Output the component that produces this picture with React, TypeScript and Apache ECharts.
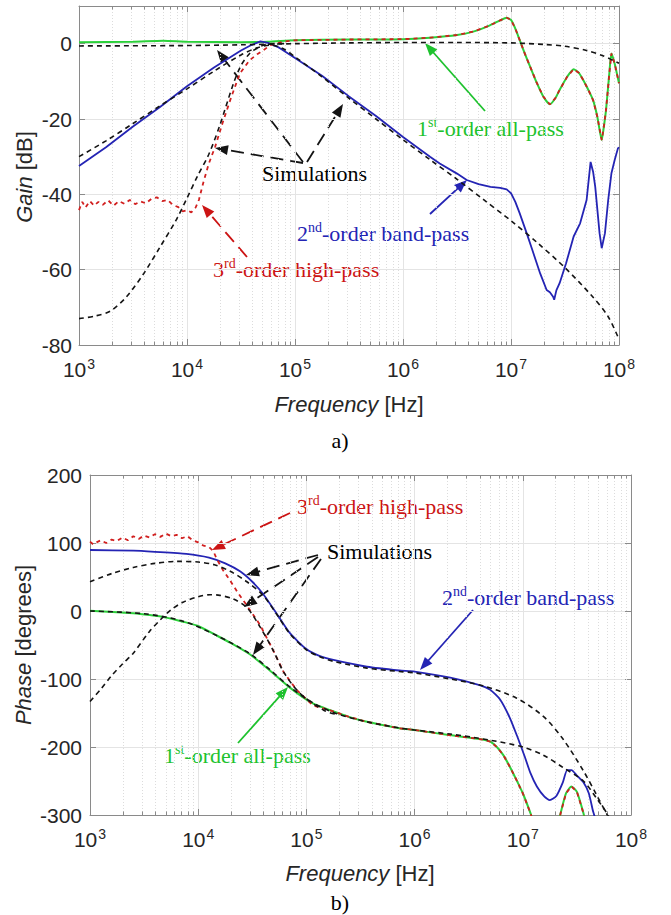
import React, { useEffect, useRef } from 'react';
import * as echarts from 'echarts';

// ---------- DATA (x = log10 of frequency in Hz) ----------
// a) Gain [dB]
const apGainLogF = [3.0, 3.5, 3.78, 4.0, 4.5, 4.75, 5.0, 5.5, 6.0, 6.25, 6.5, 6.65, 6.8, 6.9, 6.96, 7.0, 7.04, 7.08, 7.13, 7.18, 7.24, 7.3, 7.36, 7.41, 7.45, 7.52, 7.58, 7.63, 7.67, 7.72, 7.76, 7.8, 7.84, 7.86, 7.88, 7.91, 7.93, 7.96, 8.0];
const apGainDb = [0.4, 0.5, 0.8, 0.5, 0.4, 0.5, 0.9, 1.1, 1.2, 1.6, 2.3, 3.2, 4.8, 6.2, 6.9, 6.3, 4.0, 1.0, -2.8, -6.3, -10.5, -14.1, -16.1, -14.5, -12.3, -8.8, -6.8, -7.8, -9.7, -12.5, -15, -19.5, -25.6, -22, -17.6, -8, -2.6, -5.3, -10.5];

const hpGainLowLogF = [3.0, 3.03, 3.06, 3.1, 3.14, 3.18, 3.22, 3.27, 3.32, 3.37, 3.42, 3.47, 3.52, 3.57, 3.62, 3.67, 3.72, 3.77, 3.82, 3.87, 3.92, 3.96, 4.0, 4.04, 4.08, 4.11, 4.15, 4.2, 4.26, 4.33, 4.4, 4.45, 4.49, 4.58, 4.65, 4.71, 4.77, 4.89, 5.0];
const hpGainLowDb = [-44.2, -42, -43.5, -41.8, -43, -42, -42.8, -41.6, -43, -41.8, -42.5, -41.5, -42.6, -41.9, -42.4, -41.2, -40.8, -41.8, -41.5, -42.8, -43.4, -44.5, -44.2, -44.8, -43.5, -41.5, -37, -32, -27.4, -21, -15, -11, -7.9, -4.4, -2.8, -1.7, -0.4, 0.5, 0.9];

const bpGainLogF = [3.0, 3.1, 3.25, 3.5, 3.75, 4.0, 4.25, 4.5, 4.6, 4.68, 4.75, 4.85, 5.0, 5.25, 5.5, 5.75, 6.0, 6.25, 6.34, 6.5, 6.59, 6.7, 6.81, 6.9, 6.96, 7.0, 7.04, 7.08, 7.145, 7.2, 7.27, 7.33, 7.36, 7.39, 7.4, 7.42, 7.45, 7.51, 7.58, 7.64, 7.7, 7.737, 7.76, 7.78, 7.82, 7.84, 7.87, 7.9, 7.93, 7.96, 7.99, 8.0];
const bpGainDb = [-32.5, -30.5, -27.5, -22, -16.8, -11.3, -6.3, -1.8, -0.3, 0.6, 0.2, -1.0, -3.8, -8.5, -14, -19.2, -24.8, -30, -31.8, -34.5, -36.2, -37.3, -38, -38.3, -38.7, -39.7, -42, -45, -50.3, -55, -61, -65.4, -66, -67.2, -68, -65.5, -63.6, -58.3, -51.2, -47.7, -41.5, -31.4, -34, -38, -50.3, -54.3, -50.3, -41.5, -34.4, -30.9, -27.8, -27.5];

const apSimGainLogF = [3.0, 4.0, 4.5, 5.0, 5.5, 6.0, 6.5, 7.0, 7.3, 7.5, 7.7, 7.85, 8.0];
const apSimGainDb = [-0.6, -0.5, -0.3, 0, 0.2, 0.3, 0.3, 0.2, -0.2, -0.7, -1.8, -3.2, -5.2];

const hpSimGainLogF = [3.0, 3.15, 3.29, 3.44, 3.6, 3.75, 3.9, 4.0, 4.1, 4.2, 4.3, 4.43, 4.5, 4.58, 4.65, 4.71, 4.8, 4.9];
const hpSimGainDb = [-73, -72.3, -71, -67.2, -61, -54, -46.8, -41, -35, -29.5, -22, -10.6, -5.8, -2.6, -1.2, -0.4, 0, 0];

const bpSimGainLogF = [3.0, 3.25, 3.5, 3.75, 4.0, 4.25, 4.5, 4.65, 4.78, 4.9, 5.0, 5.25, 5.5, 5.75, 6.0, 6.25, 6.5, 6.75, 7.0, 7.25, 7.5, 7.75, 7.9, 8.0];
const bpSimGainDb = [-30, -25.8, -21.2, -16.5, -12, -7.3, -3, -1.1, -0.4, -1.5, -3.5, -8.8, -14.5, -20, -25.5, -30.8, -36, -41.5, -47, -53, -59.5, -67, -72.5, -78.5];

// b) Phase [degrees]
const bpPhaseLogF = [3.0, 3.4, 3.6, 3.89, 4.1, 4.25, 4.39, 4.5, 4.6, 4.73, 4.85, 5.0, 5.12, 5.25, 5.56, 5.86, 6.0, 6.33, 6.6, 6.7, 6.79, 6.88, 6.95, 7.02, 7.07, 7.13, 7.2, 7.25, 7.31, 7.37, 7.41, 7.45, 7.5, 7.56, 7.61, 7.65, 7.68];
const bpPhaseDeg = [89.7, 88.7, 87, 84, 78.5, 70, 58, 43, 25, -5, -33, -56, -66, -72, -82, -87.5, -89, -98, -109, -116, -130, -157, -185, -215, -238, -258, -273, -278, -272, -252, -234, -234, -242, -252, -268, -295, -310];

const bpSimPhaseLogF = [3.0, 3.2, 3.4, 3.6, 3.8, 4.0, 4.15, 4.3, 4.45, 4.6, 4.73, 4.85, 5.0, 5.12, 5.25, 5.56, 5.86, 6.0, 6.33, 6.63, 6.94, 7.19, 7.37, 7.56, 7.68, 7.78, 7.82];
const bpSimPhaseDeg = [43, 55, 64, 70, 73, 72, 68, 58, 43, 23, -6, -34, -57, -67, -74, -84, -89, -91, -100, -110, -128, -155, -188, -235, -270, -300, -312];

const apPhaseLogF = [3.0, 3.4, 3.55, 3.7, 3.86, 4.0, 4.17, 4.3, 4.48, 4.66, 4.85, 5.06, 5.22, 5.4, 5.56, 5.86, 6.0, 6.3, 6.63, 6.7, 6.76, 6.82, 6.88, 6.94, 7.0, 7.07, 7.1, 7.2, 7.33, 7.35, 7.4, 7.45, 7.5, 7.56, 7.58];
const apPhaseDeg: (number | null)[] = [0.5, -3.4, -6, -9.5, -15.7, -22, -36, -47, -64, -87, -113, -136, -146, -156, -163, -172.5, -175, -182, -189, -192, -200, -212, -229, -248, -268, -297, -312, null, -312, -297, -268, -258, -266, -297, -312];

const hpPhaseLowLogF = [3.0, 3.03, 3.06, 3.1, 3.15, 3.2, 3.25, 3.3, 3.35, 3.4, 3.45, 3.5, 3.55, 3.6, 3.65, 3.7, 3.75, 3.8, 3.85, 3.9, 3.95, 4.0, 4.05, 4.1, 4.14, 4.17, 4.23, 4.29, 4.37, 4.45, 4.57, 4.7, 4.79, 4.91, 5.06];
const hpPhaseLowDeg = [102, 98, 101, 104, 100, 105, 103, 108, 104, 110, 106, 111, 108, 113, 109, 114, 110, 112, 107, 110, 104, 101, 96, 94, 88, 77, 60, 46, 26, 8, -20, -60, -90, -116, -139];

const apSimPhaseLogF = [3.0, 3.5, 3.86, 4.17, 4.48, 4.66, 4.85, 5.06, 5.28, 5.56, 5.86, 6.0, 6.33, 6.7, 7.0, 7.19, 7.37, 7.56, 7.68, 7.78, 7.82];
const apSimPhaseDeg = [0, -4, -15, -36, -63, -86, -112, -135, -151, -163, -172, -175, -181, -190, -200, -212, -230, -250, -275, -298, -310];

const hpSimPhaseLogF = [3.0, 3.1, 3.2, 3.3, 3.4, 3.55, 3.65, 3.75, 3.86, 4.0, 4.11, 4.2, 4.32, 4.45, 4.57, 4.7, 4.79, 4.94, 5.16, 5.3];
const hpSimPhaseDeg = [-133, -115, -95, -78, -62, -30, -13, 2, 13, 21, 24, 23, 18, 5, -23, -60, -90, -121, -146, -153];

// axis ranges / ticks
const freqMin = 1e3;
const freqMax = 1e8;
const gainMin = -80, gainMax = 10, gainStep = 20;
const phaseMin = -300, phaseMax = 200, phaseStep = 100;
const minorDecades = [3, 4, 5, 6, 7];
const minorMult = [2, 3, 4, 5, 6, 7, 8, 9];

// ---------- STYLE ----------
const BLUE = '#2424b4';
const GREEN = '#2bd03a';
const GREEN_T = '#1ec22e';
const RED = '#d11f1f';
const RED_T = '#cc1414';
const BLACK = '#141414';
const AXIS = '#8a8a8a';
const TXT = '#262626';
const SANS = 'Liberation Sans, Arial, sans-serif';
const SERIF = 'Liberation Serif, Times New Roman, serif';

const pairs = (lf: number[], v: (number | null)[]) =>
  lf.map((e, i) => [Math.pow(10, e), v[i] === null ? '-' : v[i]]);

const G1 = { left: 79, top: 6, width: 540, height: 339 };
const G2 = { left: 90, top: 475, width: 541, height: 340 };

function arrow(x1: number, y1: number, x2: number, y2: number, color: string, dashed: boolean) {
  const dx = x2 - x1, dy = y2 - y1;
  const L = Math.hypot(dx, dy);
  const ux = dx / L, uy = dy / L;
  const hl = 13, hw = 5;
  const bx = x2 - ux * hl, by = y2 - uy * hl;
  const px = -uy * hw, py = ux * hw;
  return [
    {
      type: 'line', silent: true,
      shape: { x1, y1, x2: bx + ux * 2, y2: by + uy * 2 },
      style: { stroke: color, lineWidth: 1.8, lineDash: dashed ? [13, 7] : null },
    },
    {
      type: 'polygon', silent: true,
      shape: { points: [[x2, y2], [bx + px, by + py], [bx - px, by - py]] },
      style: { fill: color },
    },
  ];
}

function supText(left: number, cy: number, pre: string, sup: string, post: string, color: string, size = 22) {
  return {
    type: 'text', x: left, y: cy, silent: true,
    style: {
      text: `{b|${pre}}{s|${sup}}{b|${post}}`,
      fill: color, align: 'left', verticalAlign: 'middle',
      fontFamily: SERIF, fontSize: size,
      rich: {
        b: { fontFamily: SERIF, fontSize: size, fill: color, verticalAlign: 'bottom' },
        s: { fontFamily: SERIF, fontSize: 14, fill: color, verticalAlign: 'top', padding: [0, 0, 10, 0] },
      },
    },
  };
}

function plainText(x: number, y: number, text: string, color: string, align = 'left', size = 22, font = SERIF) {
  return {
    type: 'text', x, y, silent: true,
    style: { text, fill: color, align, verticalAlign: 'middle', fontFamily: font, fontSize: size },
  };
}

function axisNameText(x: number, y: number, it: string, rest: string, rot: number) {
  return {
    type: 'text', x, y, rotation: rot, silent: true,
    style: {
      text: `{i|${it}}{r|${rest}}`, align: 'center', verticalAlign: 'middle', fill: TXT,
      fontFamily: SANS, fontSize: 22,
      rich: {
        i: { fontFamily: SANS, fontSize: 22, fontStyle: 'italic', fill: TXT },
        r: { fontFamily: SANS, fontSize: 22, fill: TXT },
      },
    },
  };
}

function xAxes(gridIndex: number) {
  const base: any = {
    type: 'log', logBase: 10, min: freqMin, max: freqMax, gridIndex,
    axisLine: { show: true, onZero: false, lineStyle: { color: AXIS, width: 1 } },
    axisTick: { show: true, inside: true, length: 6, lineStyle: { color: AXIS } },
  };
  return [
    {
      ...base, position: 'bottom',
      axisLabel: {
        show: true, margin: 12, color: TXT,
        formatter: (v: number) => `{b|10}{s|${Math.round(Math.log10(v))}}`,
        rich: {
          b: { fontFamily: SANS, fontSize: 21, color: TXT, verticalAlign: 'bottom' },
          s: { fontFamily: SANS, fontSize: 14, color: TXT, verticalAlign: 'top', padding: [0, 0, 9, 1] },
        },
      },
      splitLine: { show: true, lineStyle: { color: '#e4e4e4', width: 1 } },
    },
    { ...base, position: 'top', axisLabel: { show: false }, splitLine: { show: false } },
  ];
}

function yAxes(gridIndex: number, min: number, max: number, interval: number, margin: number) {
  const base: any = {
    type: 'value', gridIndex, min, max, interval,
    axisLine: { show: true, onZero: false, lineStyle: { color: AXIS, width: 1 } },
    axisTick: { show: true, inside: true, length: 6, lineStyle: { color: AXIS } },
  };
  return [
    {
      ...base, position: 'left',
      axisLabel: {
        show: true, margin, color: TXT, fontFamily: SANS, fontSize: 21,
        formatter: (v: number) => (v > max - 1e-9 && max % interval !== 0 ? '' : String(v)),
      },
      splitLine: { show: true, lineStyle: { color: '#e4e4e4', width: 1 } },
    },
    { ...base, position: 'right', axisLabel: { show: false }, splitLine: { show: false } },
  ];
}

function minorSeries(xi: number, yi: number, yv: number) {
  const data: number[][] = [];
  minorDecades.forEach((d) => minorMult.forEach((m) => data.push([m * Math.pow(10, d), yv])));
  return {
    type: 'custom', xAxisIndex: xi, yAxisIndex: yi, z: 1, silent: true, data,
    renderItem: (params: any, api: any) => {
      const cs = params.coordSys;
      const x = Math.round(api.coord([api.value(0), api.value(1)])[0]) + 0.5;
      const y0 = cs.y, y1 = cs.y + cs.height;
      return {
        type: 'group',
        children: [
          { type: 'line', shape: { x1: x, y1: y0, x2: x, y2: y1 }, style: { stroke: '#dcdcdc', lineWidth: 1, lineDash: [1, 2] } },
          { type: 'line', shape: { x1: x, y1: y1, x2: x, y2: y1 - 3.5 }, style: { stroke: AXIS, lineWidth: 1 } },
          { type: 'line', shape: { x1: x, y1: y0, x2: x, y2: y0 + 3.5 }, style: { stroke: AXIS, lineWidth: 1 } },
        ],
      };
    },
  };
}

function line(xi: number, yi: number, data: any[], color: string, width: number, dash: number[] | null, z: number, smooth: number | boolean = false) {
  return {
    type: 'line', xAxisIndex: xi, yAxisIndex: yi, data, showSymbol: false, symbol: 'none',
    smooth, z, clip: true, connectNulls: false, silent: true,
    lineStyle: { color, width, type: dash ? dash : 'solid' },
  };
}

export default function App() {
  const ref = useRef<HTMLDivElement>(null);
  useEffect(() => {
    if (!ref.current) return;
    const chart = echarts.init(ref.current, undefined, { renderer: 'svg' });

    const apGain = pairs(apGainLogF, apGainDb);
    const hpGain = pairs(hpGainLowLogF, hpGainLowDb).concat(
      pairs(apGainLogF, apGainDb).filter((p) => (p[0] as number) > 1.01e5)
    );
    const apPhase = pairs(apPhaseLogF, apPhaseDeg);
    const hpPhase = pairs(hpPhaseLowLogF, hpPhaseLowDeg).concat(
      pairs(apPhaseLogF, apPhaseDeg).filter((p) => (p[0] as number) > 1.5e5)
    );

    const dash = [5, 4];
    const graphic: any[] = [
      // axis names & captions
      axisNameText(24, 177, 'Gain', ' [dB]', Math.PI / 2),
      axisNameText(349, 404, 'Frequency', ' [Hz]', 0),
      plainText(340, 440, 'a)', '#000', 'center', 22),
      axisNameText(23, 645, 'Phase', ' [degrees]', Math.PI / 2),
      axisNameText(360, 873, 'Frequency', ' [Hz]', 0),
      plainText(340, 902, 'b)', '#000', 'center', 22),
      // a) annotations
      plainText(262, 173, 'Simulations', '#000'),
      ...arrow(303, 163, 215, 148, BLACK, true),
      ...arrow(303, 162, 217, 50, BLACK, true),
      ...arrow(307, 162, 343, 104, BLACK, true),
      supText(417, 127, '1', 'st', '-order all-pass', GREEN_T),
      ...arrow(485, 111, 425, 43, GREEN_T, false),
      supText(297, 232, '2', 'nd', '-order band-pass', BLUE),
      ...arrow(430, 214, 467, 180, BLUE, false),
      supText(213, 268, '3', 'rd', '-order high-pass', RED_T),
      ...arrow(247, 257, 202, 205, RED_T, true),
      // b) annotations
      supText(297, 505, '3', 'rd', '-order high-pass', RED_T),
      ...arrow(290, 513, 212, 550, RED_T, true),
      plainText(327, 551, 'Simulations', '#000'),
      ...arrow(318, 555, 246, 575, BLACK, true),
      ...arrow(318, 557, 244, 607, BLACK, true),
      ...arrow(321, 559, 253, 655, BLACK, true),
      supText(442, 596, '2', 'nd', '-order band-pass', BLUE),
      ...arrow(473, 610, 420, 670, BLUE, false),
      supText(164, 754, '1', 'st', '-order all-pass', GREEN_T),
      ...arrow(238, 743, 288, 687, GREEN_T, false),
    ];

    chart.setOption({
      animation: false,
      backgroundColor: '#ffffff',
      grid: [
        { ...G1, containLabel: false, show: false },
        { ...G2, containLabel: false, show: false },
      ],
      xAxis: [...xAxes(0), ...xAxes(1)],
      yAxis: [
        ...yAxes(0, gainMin, gainMax, gainStep, 7),
        ...yAxes(1, phaseMin, phaseMax, phaseStep, 8),
      ],
      series: [
        minorSeries(0, 0, gainMin),
        minorSeries(2, 2, phaseMin),
        // a) gain
        line(0, 0, apGain, GREEN, 2, null, 3, 0.2),
        line(0, 0, pairs(bpGainLogF, bpGainDb), BLUE, 1.8, null, 4),
        line(0, 0, hpGain, RED, 1.8, [4, 4], 5),
        line(0, 0, pairs(apSimGainLogF, apSimGainDb), BLACK, 1.6, dash, 6, 0.3),
        line(0, 0, pairs(hpSimGainLogF, hpSimGainDb), BLACK, 1.6, dash, 6, 0.3),
        line(0, 0, pairs(bpSimGainLogF, bpSimGainDb), BLACK, 1.6, dash, 6, 0.3),
        // b) phase
        line(2, 2, apPhase, GREEN, 2, null, 3, 0.2),
        line(2, 2, pairs(bpPhaseLogF, bpPhaseDeg), BLUE, 1.8, null, 4, 0.2),
        line(2, 2, hpPhase, RED, 1.8, [4, 4], 5),
        line(2, 2, pairs(apSimPhaseLogF, apSimPhaseDeg), BLACK, 1.6, dash, 6, 0.3),
        line(2, 2, pairs(hpSimPhaseLogF, hpSimPhaseDeg), BLACK, 1.6, dash, 6, 0.3),
        line(2, 2, pairs(bpSimPhaseLogF, bpSimPhaseDeg), BLACK, 1.6, dash, 6, 0.3),
      ],
      graphic,
    });
    return () => chart.dispose();
  }, []);

  return (
    <div
      ref={ref}
      style={{ position: 'fixed', left: 0, top: 0, width: 671, height: 915, background: '#fff' }}
    />
  );
}
